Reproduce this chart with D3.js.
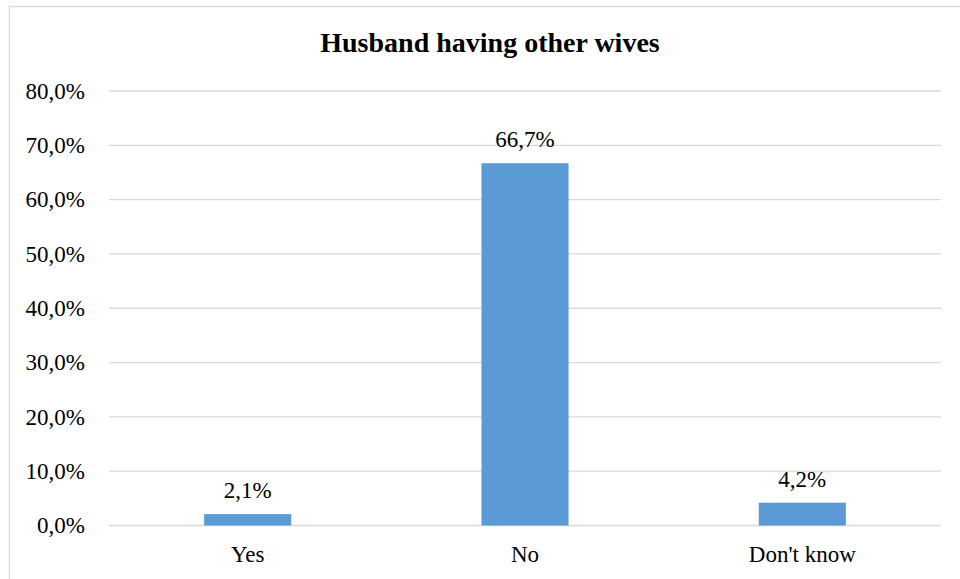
<!DOCTYPE html>
<html>
<head>
<meta charset="utf-8">
<script src="https://cdn.jsdelivr.net/npm/d3@7"></script>
</head>
<body style="margin:0">
<div id="chart"></div>
<script>
// Chart data
const categories = ["Yes", "No", "Don't know"];
const values = [2.1, 66.7, 4.2];
const yTicks = [0, 10, 20, 30, 40, 50, 60, 70, 80];
const title = "Husband having other wives";

const w = 960;
const h = 579;
const margin = { left: 109, right: 19, top: 91, bottom: 53.5 };
const serif = "Times New Roman";

const svg = d3.select("#chart")
  .append("svg")
  .attr("width", w)
  .attr("height", h);

// chart area frame (runs off the right and bottom edges)
svg.append("rect")
  .attr("x", 9.5)
  .attr("y", 6.5)
  .attr("width", 1000)
  .attr("height", 1000)
  .attr("fill", "none")
  .attr("stroke", "#d9d9d9")
  .attr("stroke-width", 1.3);

const x = d3.scaleBand()
  .domain(categories)
  .range([margin.left, w - margin.right])
  .paddingInner(0.686)
  .paddingOuter(0.343);

const y = d3.scaleLinear()
  .domain([0, 80])
  .range([h - margin.bottom, margin.top]);

const pct = d => d3.format(".1f")(d).replace(".", ",") + "%";

// gridlines
svg.append("g")
  .selectAll("line")
  .data(yTicks)
  .join("line")
  .attr("x1", margin.left)
  .attr("x2", w - margin.right)
  .attr("y1", d => y(d))
  .attr("y2", d => y(d))
  .attr("stroke", "#d9d9d9")
  .attr("stroke-width", 1.3);

// y tick labels
svg.append("g")
  .selectAll("text")
  .data(yTicks)
  .join("text")
  .attr("x", margin.left - 24)
  .attr("y", d => y(d))
  .attr("dy", "0.34em")
  .attr("text-anchor", "end")
  .attr("font-size", 23)
  .style("font-family", serif)
  .text(pct);

// bars
svg.selectAll(".bar")
  .data(values)
  .join("rect")
  .attr("class", "bar")
  .attr("x", (d, i) => x(categories[i]))
  .attr("y", d => y(d))
  .attr("width", x.bandwidth())
  .attr("height", d => y(0) - y(d))
  .attr("fill", "#5b9bd5");

// value labels
svg.selectAll(".val")
  .data(values)
  .join("text")
  .attr("class", "val")
  .attr("x", (d, i) => x(categories[i]) + x.bandwidth() / 2)
  .attr("y", d => y(d) - 16)
  .attr("text-anchor", "middle")
  .attr("font-size", 23)
  .style("font-family", serif)
  .text(pct);

// category labels
svg.selectAll(".cat")
  .data(categories)
  .join("text")
  .attr("class", "cat")
  .attr("x", d => x(d) + x.bandwidth() / 2)
  .attr("y", y(0) + 36)
  .attr("text-anchor", "middle")
  .attr("font-size", 23)
  .style("font-family", serif)
  .text(d => d);

// title
svg.append("text")
  .attr("x", 490)
  .attr("y", 52)
  .attr("text-anchor", "middle")
  .attr("font-size", 28)
  .attr("font-weight", "bold")
  .style("font-family", serif)
  .text(title);
</script>
</body>
</html>
